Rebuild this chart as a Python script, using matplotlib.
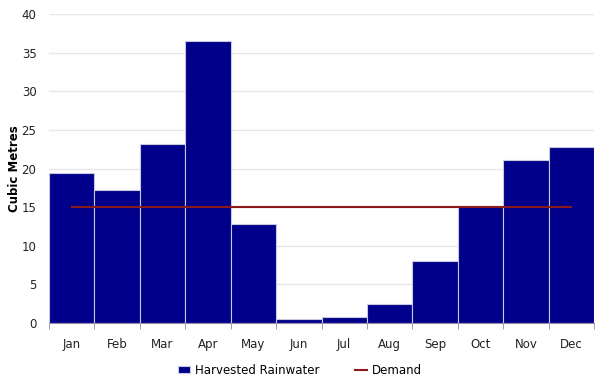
import matplotlib
matplotlib.use("Agg")
import matplotlib.pyplot as plt
import numpy as np

months = ["Jan", "Feb", "Mar", "Apr", "May", "Jun", "Jul", "Aug", "Sep", "Oct", "Nov", "Dec"]
rainwater = [19.4, 17.2, 23.2, 36.5, 12.8, 0.5, 0.8, 2.5, 8.0, 15.1, 21.1, 22.8]
demand = [15] * 12
yticks = [0, 5, 10, 15, 20, 25, 30, 35, 40]

fig = plt.figure(figsize=(6, 3.8), dpi=100)
ax = fig.add_axes([49/600, 1-323/380, (594-49)/600, (323-14)/380])

x = np.arange(len(months))
bars = ax.bar(x, rainwater, width=1.0, color="#00008B", edgecolor="#c8c8e0", linewidth=0.8,
              label="Harvested Rainwater", zorder=2)
line, = ax.plot(x, demand, color="#8B1A1A", linewidth=1.5, label="Demand", zorder=3)

ax.set_xlim(-0.5, 11.5)
ax.set_ylim(0, 40)
ax.set_yticks(yticks)
ax.set_xticks(x)
ax.set_xticklabels(months)
ax.set_xticks(np.arange(-0.5, 12, 1), minor=True)
ax.tick_params(axis="x", which="major", length=0, pad=11, labelsize=8.5, colors="#222222")
ax.tick_params(axis="x", which="minor", length=4, color="#9090a8")
ax.tick_params(axis="y", length=0, pad=9, labelsize=8.5, colors="#222222")
ax.grid(axis="y", color="#e6e6e6", linewidth=1, zorder=0)
ax.set_axisbelow(True)
for s in ["left", "right", "top"]:
    ax.spines[s].set_visible(False)
ax.spines["bottom"].set_color("#9090a8")
ax.set_ylabel("Cubic Metres", fontsize=8.5, fontweight="bold")
ax.yaxis.set_label_coords((21-49)/545, 0.5)

leg = fig.legend(handles=[bars, line], labels=["Harvested Rainwater", "Demand"],
                 loc="center", bbox_to_anchor=(0.5, 1-370/380), ncol=2, frameon=False,
                 fontsize=8.5, handlelength=1.0, handleheight=0.6, handletextpad=0.4,
                 columnspacing=3)
fig.savefig("out.png", dpi=100)
